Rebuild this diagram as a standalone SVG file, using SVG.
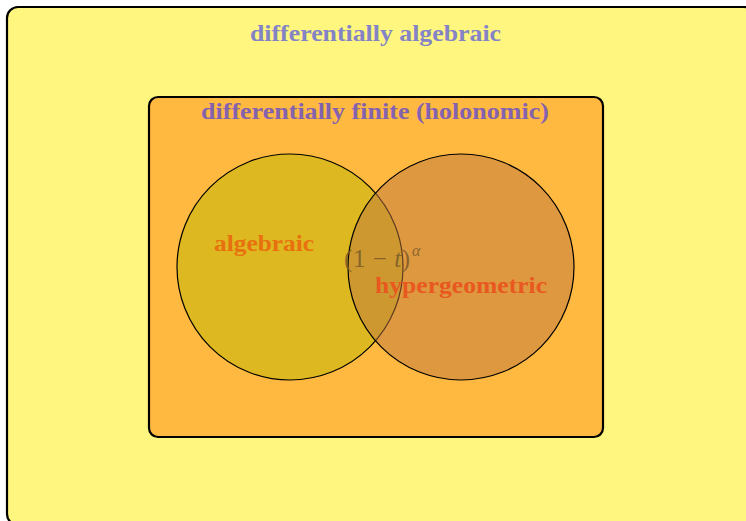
<svg xmlns="http://www.w3.org/2000/svg" width="746" height="521" viewBox="0 0 746 521">
<style>
.box{stroke:#000;stroke-width:2.2}
.circ{stroke:#000;stroke-width:1.2}
.t{font-family:"Liberation Serif","DejaVu Serif",serif;font-weight:bold;text-anchor:middle}
</style>
<rect width="746" height="521" fill="#fff"/>
<g id="differentially-algebraic">
<rect class="box" x="7" y="7" width="748" height="518" rx="11" fill="#FFF67F"/>
<text class="t" x="375.5" y="41" font-size="23" fill="#8383C6" textLength="251" lengthAdjust="spacingAndGlyphs">differentially algebraic</text>
</g>
<g id="differentially-finite">
<rect class="box" x="149" y="97" width="454" height="340" rx="9" fill="#FFB941"/>
<text class="t" x="375" y="119" font-size="23" fill="#8462AE" textLength="348" lengthAdjust="spacingAndGlyphs">differentially finite (holonomic)</text>
</g>
<g id="algebraic">
<circle class="circ" cx="290" cy="267" r="113" fill="#DDB820"/>
<text class="t" x="264" y="251" font-size="23" fill="#E8700F" textLength="100" lengthAdjust="spacingAndGlyphs">algebraic</text>
</g>
<g id="hypergeometric">
<circle class="circ" cx="461" cy="267" r="113" fill="#BD773F" fill-opacity="0.5"/>
<text class="t" x="461" y="293" font-size="23" fill="#E8581F" textLength="172" lengthAdjust="spacingAndGlyphs">hypergeometric</text>
</g>
<g id="example">
<text x="344" y="267" font-family="'Liberation Serif',serif" font-size="25" fill="#7A5A28" fill-opacity="0.85" textLength="66" lengthAdjust="spacing">(1 − <tspan font-style="italic">t</tspan>)</text>
<text x="412" y="256" font-family="'Liberation Serif',serif" font-size="16" font-style="italic" fill="#7A5A28" fill-opacity="0.85">α</text>
</g>
</svg>
